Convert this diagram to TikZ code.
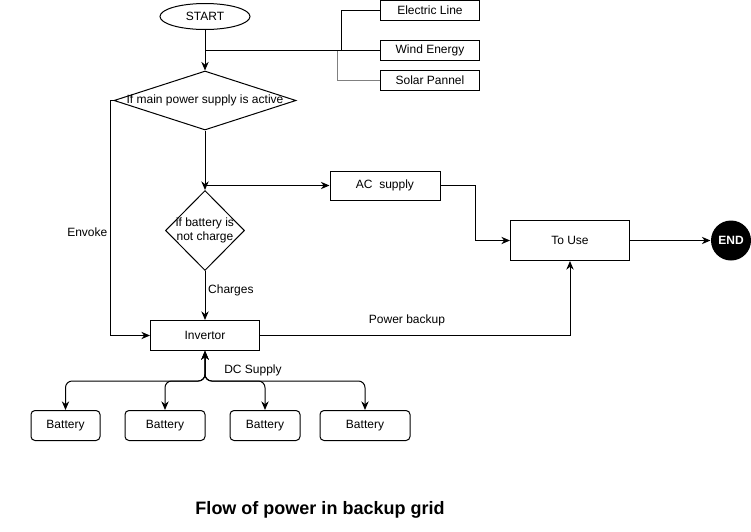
\documentclass[tikz,border=0pt]{standalone}
\usepackage{fontspec}
\setmainfont{Liberation Sans}
\usetikzlibrary{shapes.geometric, arrows.meta, positioning}

\begin{document}
\begin{tikzpicture}[
  x=0.75pt, y=-0.75pt, line width=0.75pt,
  font=\fontsize{9}{10.5}\selectfont,
  box/.style={rectangle, draw, inner sep=1pt},
  source/.style={box, minimum width=74.25pt, minimum height=15pt},
  battery/.style={box, rounded corners=3pt, minimum height=22.5pt},
  decision/.style={diamond, draw, inner sep=0pt},
  arr/.style={-{Stealth[length=6.5pt,width=5.5pt]}},
  lbl/.style={font=\fontsize{9}{10.5}\selectfont, inner sep=2pt},
]
  \useasboundingbox (0,0) rectangle (751,532);

  % start and power sources
  \node[ellipse, draw, minimum width=67.5pt, minimum height=19.5pt] (start) at (205,16.5) {START};
  \node[source] (elec)  at (430,10.5) {Electric Line};
  \node[source] (wind)  at (430,50.5) {Wind Energy};
  \node[source] (solar) at (430,80.5) {Solar Pannel};
  \coordinate (jtop)   at (205,50.5);
  \coordinate (jelec)  at (341,50.5);
  \coordinate (jsolar) at (337,50.5);

  % decisions
  \node[decision, minimum width=136.5pt, minimum height=44.25pt,
        label=center:{If main power supply is active}] (mainq) at (205,100.5) {};
  \node[decision, minimum width=59.25pt, minimum height=60pt,
        label={[align=center]center:if battery is\\not charge}] (batq) at (205,230.5) {};
  \coordinate (jac) at (205,185.5);

  % outputs
  \node[box, minimum width=82.5pt, minimum height=21.75pt] (ac) at (385,185.5) {AC\ \ supply};
  \node[box, minimum width=89.25pt, minimum height=30pt] (touse) at (570,240.5) {To Use};
  \node[circle, fill=black, text=white, font=\bfseries\fontsize{9}{10.5}\selectfont,
        minimum size=30pt, inner sep=0pt] (endn) at (731,240.5) {END};
  \node[box, minimum width=81.75pt, minimum height=22.5pt] (inv) at (205,335.5) {Invertor};

  % batteries
  \node[battery, minimum width=51.75pt] (bat1) at (65.5,425.5) {Battery};
  \node[battery, minimum width=60pt]    (bat2) at (165,425.5)  {Battery};
  \node[battery, minimum width=52.5pt]  (bat3) at (265,425.5)  {Battery};
  \node[battery, minimum width=67.5pt]  (bat4) at (365,425.5)  {Battery};

  % connectors
  \draw (elec.west) -| (jelec);
  \draw[gray] (solar.west) -| (jsolar);
  \draw (wind.west) -- (jtop);
  \draw[arr] (start.south) -- (mainq.north);
  \draw[arr] (mainq.south) -- (batq.north);
  \draw[arr] (jac) -- (ac.west);
  \draw[arr] (ac.east) -- ++(35,0) |- (touse.west);
  \draw[arr] (touse.east) -- (endn.west);
  \draw[arr] (batq.south) -- node[lbl, right, pos=0.4] {Charges} (inv.north);
  \draw[arr] (mainq.west) -- ++(-3,0) |- node[lbl, left, pos=0.28] {Envoke} (inv.west);
  \draw[arr] (inv.east) -| node[lbl, above=5pt, pos=0.237] {Power backup} (touse.south);
  \foreach \b in {bat1,bat2,bat3,bat4}
    \draw[{Stealth[length=6.5pt,width=5.5pt]}-{Stealth[length=6.5pt,width=5.5pt]}, rounded corners=5pt]
      (inv.south) -- ++(0,30) -| (\b.north);
  \node[lbl] (dclbl) at (253,370.5) {DC Supply};

  \node[font=\bfseries\fontsize{13.5}{16}\selectfont] (title) at (320,509.5) {Flow of power in backup grid};
\end{tikzpicture}
\end{document}
